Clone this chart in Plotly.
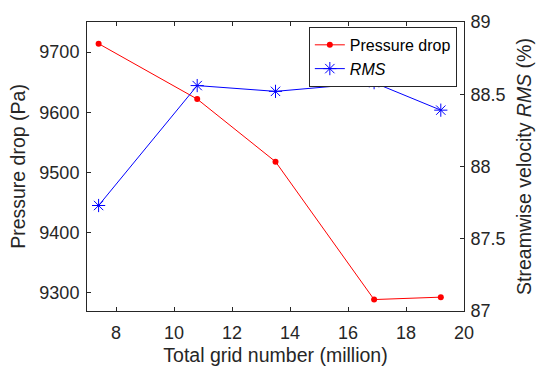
import plotly.graph_objects as go

grid_million = [7.4, 10.8, 13.5, 16.9, 19.2]
pressure_drop = [9714, 9622, 9518, 9289, 9293]
rms = [87.73, 88.56, 88.52, 88.58, 88.39]

x_ticks = [8, 10, 12, 14, 16, 18, 20]
left_ticks = [9300, 9400, 9500, 9600, 9700]
right_ticks = [87, 87.5, 88, 88.5, 89]

axc = "#262626"
font = "Liberation Sans, Arial, sans-serif"

fig = go.Figure()
fig.add_trace(go.Scatter(
    x=grid_million, y=pressure_drop, name="Pressure drop", mode="lines+markers",
    line=dict(color="#ff0000", width=1), marker=dict(symbol="circle", size=6, color="#ff0000"),
    yaxis="y"))
fig.add_trace(go.Scatter(
    x=grid_million, y=rms, name="<i>RMS</i>", mode="lines+markers",
    line=dict(color="#0000ff", width=1),
    marker=dict(symbol="asterisk-open", size=11, color="#0000ff", line=dict(color="#0000ff", width=1)),
    yaxis="y2"))

fig.update_layout(
    width=546, height=374,
    margin=dict(l=87, r=82, t=12, b=62),
    plot_bgcolor="white", paper_bgcolor="white",
    font=dict(family=font, color=axc, size=18),
    showlegend=True,
    legend=dict(x=0.981, y=0.983, xanchor="right", yanchor="top",
                bordercolor=axc, borderwidth=1, bgcolor="white",
                font=dict(size=16, color="#000000"), itemwidth=30,
                tracegroupgap=0),
    xaxis=dict(range=[7, 20], tickvals=x_ticks, ticks="inside", ticklen=4,
               tickcolor=axc, showline=True, linecolor=axc, linewidth=1, mirror="ticks",
               showgrid=False, zeroline=False, ticklabelstandoff=5,
               title=dict(text="Total grid number (million)", font=dict(size=19.5), standoff=6)),
    yaxis=dict(range=[9270, 9750], tickvals=left_ticks, ticks="inside", ticklen=4,
               tickcolor=axc, showline=True, linecolor=axc, linewidth=1,
               showgrid=False, zeroline=False, ticklabelstandoff=3,
               title=dict(text="Pressure drop (Pa)", font=dict(size=19.5), standoff=8)),
    yaxis2=dict(range=[87, 89], tickvals=right_ticks, ticktext=["87", "87.5", "88", "88.5", "89"],
                overlaying="y", side="right", ticks="inside", ticklen=4,
                tickcolor=axc, showline=True, linecolor=axc, linewidth=1,
                showgrid=False, zeroline=False, ticklabelstandoff=2,
                title=dict(text="Streamwise velocity <i>RMS</i> (%)", font=dict(size=19.5), standoff=12)),
)

fig.write_html("out.html")
